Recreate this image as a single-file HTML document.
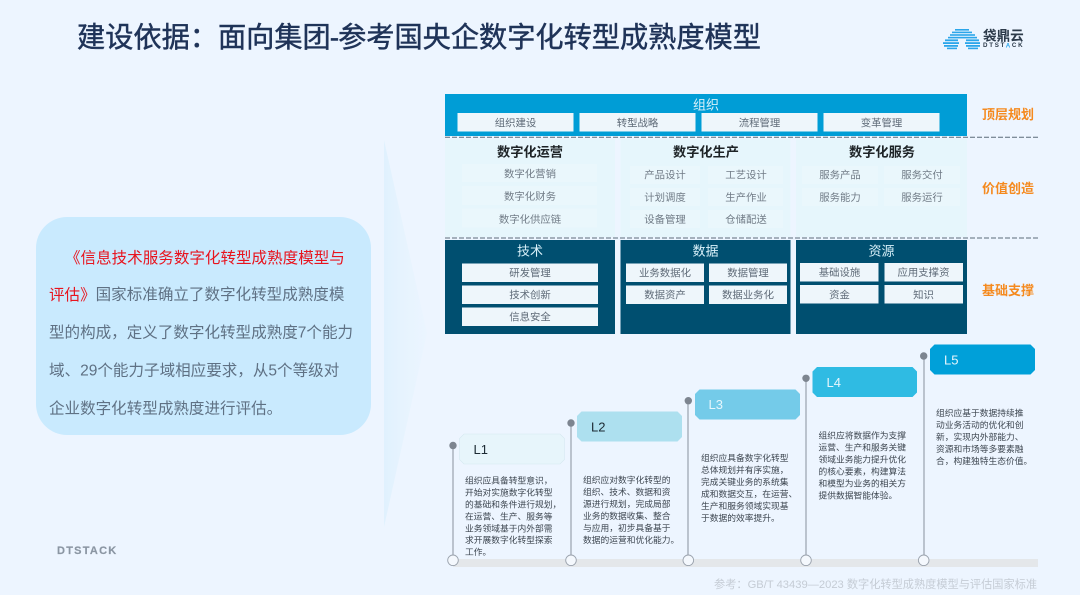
<!DOCTYPE html>
<html lang="zh"><head><meta charset="utf-8"><title>建设依据</title>
<style>
html,body{margin:0;padding:0;width:1080px;height:595px;overflow:hidden;background:#edf5ff}
svg{display:block}
text{font-family:"Liberation Sans","Noto Sans CJK SC",sans-serif;dominant-baseline:central}
.s{transform:translateY(0.9px)}
.m{text-anchor:middle}
.sub{font-size:10.4px;fill:#5f6b78;text-anchor:middle;transform:translateY(0.9px)}
.mid{font-size:10.4px;fill:#717c87;text-anchor:middle;transform:translateY(0.9px)}
.hd{font-size:13.2px;font-weight:700;fill:#1d2326;text-anchor:middle;transform:translateY(0.6px)}
.wh{font-size:13px;fill:#d9f1fa;text-anchor:middle;transform:translateY(0.6px)}
.or{font-size:13px;font-weight:700;fill:#f58a1f;transform:translateY(0.5px)}
.para{font-size:15.55px;fill:#5f7184;transform:translateY(0.8px)}
.red{fill:#e8141e}
.d{font-size:8.75px;fill:#3d4650}
.tag{font-size:13px}
</style></head><body>
<svg width="1080" height="595" viewBox="0 0 1080 595" xmlns="http://www.w3.org/2000/svg">
<defs><linearGradient id="ag" x1="0" x2="1" y1="0" y2="0"><stop offset="0" stop-color="#e0f1fe"/><stop offset="0.4" stop-color="#e6f3fe"/><stop offset="1" stop-color="#ebf5ff"/></linearGradient></defs>
<rect width="1080" height="595" fill="#edf5ff"/>
<text x="77" y="37" font-size="28.2" fill="#1f3358" stroke="#1f3358" stroke-width="0.45">建设依据：面向集团<tspan dx="-1">-</tspan><tspan dx="-1">参考国央企数字化转型成熟度模型</tspan></text>

<!-- logo -->
<g fill="#2ba6ea">
<rect x="955" y="29" width="14" height="1.6"/><rect x="952" y="31.6" width="20" height="1.6"/>
<rect x="950" y="34.2" width="25" height="1.6"/><rect x="948" y="36.8" width="29" height="1.6"/>
<rect x="945" y="39.4" width="13" height="1.8"/><rect x="966" y="39.4" width="13" height="1.8"/>
<rect x="943" y="42.2" width="16" height="1.8"/><rect x="965" y="42.2" width="15" height="1.8"/>
<rect x="944" y="45" width="14" height="1.8"/><rect x="966" y="45" width="14" height="1.8"/>
<rect x="947" y="47.6" width="10" height="1.6"/><rect x="968" y="47.6" width="10" height="1.6"/>
</g>
<text x="983" y="36" font-size="13.6" font-weight="700" fill="#2c3a4a">袋鼎云</text>
<text x="983" y="45.5" font-size="6.2" font-weight="700" fill="#2c3a4a" letter-spacing="1.75">DTST<tspan fill="#2ba6ea">A</tspan>CK</text>

<!-- big faint arrow -->
<polygon points="384,140 427,333 384,527" fill="url(#ag)"/>

<!-- left box -->
<rect x="36" y="217" width="335" height="218" rx="31" fill="#c9eafe"/>
<text class="para" x="65" y="257"><tspan class="red">《信息技术服务数字化转型成熟度模型与</tspan></text>
<text class="para" x="49" y="294"><tspan class="red">评估》</tspan>国家标准确立了数字化转型成熟度模</text>
<text class="para" x="49" y="332">型的构成，定义了数字化转型成熟度7个能力</text>
<text class="para" x="49" y="370">域、29个能力子域相应要求，从5个等级对</text>
<text class="para" x="49" y="408">企业数字化转型成熟度进行评估。</text>
<text x="57" y="551" font-size="11" font-weight="700" fill="#8b96a3" letter-spacing="1.25" stroke="#8b96a3" stroke-width="0.2">DTSTACK</text>

<!-- top layer -->
<rect x="445" y="94" width="522" height="42" fill="#009dd6"/>
<text class="m s" x="706" y="104" font-size="13" fill="#d9f1fa">组织</text>
<g fill="#eef6fb">
<rect x="457.5" y="113" width="116" height="18.5"/><rect x="579.5" y="113" width="116" height="18.5"/>
<rect x="701.5" y="113" width="116" height="18.5"/><rect x="823.5" y="113" width="116" height="18.5"/>
</g>
<text class="sub" x="515.5" y="123">组织建设</text><text class="sub" x="637.5" y="123">转型战略</text>
<text class="sub" x="759.5" y="123">流程管理</text><text class="sub" x="881.5" y="123">变革管理</text>

<!-- middle layer -->
<g fill="#e6f6fc">
<rect x="445" y="139" width="170" height="98"/><rect x="620.5" y="139" width="170" height="98"/><rect x="796" y="139" width="171" height="98"/>
</g>
<g fill="#eaf7fc">
<rect x="462" y="164" width="135" height="18"/><rect x="462" y="186" width="135" height="19"/><rect x="462" y="208.500" width="135" height="19"/>
<rect x="630" y="166" width="70" height="18"/><rect x="708" y="166" width="75" height="18"/>
<rect x="630" y="188" width="70" height="18"/><rect x="708" y="188" width="75" height="18"/>
<rect x="630" y="210" width="70" height="18"/><rect x="708" y="210" width="75" height="18"/>
<rect x="802" y="166" width="76" height="18"/><rect x="884" y="166" width="76" height="18"/>
<rect x="802" y="188" width="76" height="18"/><rect x="884" y="188" width="76" height="18"/>
</g>
<text class="hd" x="530" y="151.500">数字化运营</text>
<text class="hd" x="706" y="151.500">数字化生产</text>
<text class="hd" x="882" y="151.500">数字化服务</text>
<text class="mid" x="530" y="174">数字化营销</text><text class="mid" x="530" y="196.500">数字化财务</text><text class="mid" x="530" y="219.500">数字化供应链</text>
<text class="mid" x="665" y="175">产品设计</text><text class="mid" x="746" y="175">工艺设计</text>
<text class="mid" x="665" y="197.500">计划调度</text><text class="mid" x="746" y="197.500">生产作业</text>
<text class="mid" x="665" y="219.500">设备管理</text><text class="mid" x="746" y="219.500">仓储配送</text>
<text class="mid" x="840" y="175">服务产品</text><text class="mid" x="922" y="175">服务交付</text>
<text class="mid" x="840" y="197.500">服务能力</text><text class="mid" x="922" y="197.500">服务运行</text>

<!-- bottom layer -->
<g fill="#004f70">
<rect x="445" y="240" width="170" height="94"/><rect x="620.5" y="240" width="170" height="94"/><rect x="796" y="240" width="171" height="94"/>
</g>
<text class="wh" x="530" y="250.500">技术</text><text class="wh" x="705.500" y="250.500">数据</text><text class="wh" x="881.500" y="250.500">资源</text>
<g fill="#eef6fb">
<rect x="462" y="263.500" width="136" height="18.500"/><rect x="462" y="285.500" width="136" height="18.500"/><rect x="462" y="307.500" width="136" height="18.500"/>
<rect x="626" y="263.500" width="78" height="18.500"/><rect x="709" y="263.500" width="78" height="18.500"/>
<rect x="626" y="285.500" width="78" height="18.500"/><rect x="709" y="285.500" width="78" height="18.500"/>
<rect x="800" y="263" width="78.500" height="18.500"/><rect x="884.500" y="263" width="78.500" height="18.500"/>
<rect x="800" y="285" width="78.500" height="18.500"/><rect x="884.500" y="285" width="78.500" height="18.500"/>
</g>
<text class="sub" x="530" y="273">研发管理</text><text class="sub" x="530" y="295">技术创新</text><text class="sub" x="530" y="317">信息安全</text>
<text class="sub" x="665" y="273">业务数据化</text><text class="sub" x="748" y="273">数据管理</text>
<text class="sub" x="665" y="295">数据资产</text><text class="sub" x="748" y="295">数据业务化</text>
<text class="sub" x="839.500" y="272.500">基础设施</text><text class="sub" x="923.500" y="272.500">应用支撑资</text>
<text class="sub" x="839.500" y="295">资金</text><text class="sub" x="923.500" y="295">知识</text>

<line x1="445" y1="137.300" x2="1038" y2="137.300" stroke="#5b6b78" stroke-width="1" stroke-dasharray="5 2"/>
<line x1="445" y1="238" x2="1038" y2="238" stroke="#5b6b78" stroke-width="1" stroke-dasharray="5 2"/>
<text class="or" x="982" y="114">顶层规划</text>
<text class="or" x="982" y="188">价值创造</text>
<text class="or" x="982" y="290">基础支撑</text>

<!-- timeline -->
<rect x="453" y="559" width="585" height="8" fill="#e4e7ea"/>
<g stroke="#9aa2ad" stroke-width="1.2">
<line x1="453" y1="445" x2="453" y2="556"/><line x1="571" y1="423" x2="571" y2="556"/>
<line x1="688" y1="400.500" x2="688" y2="556"/><line x1="806" y1="378" x2="806" y2="556"/>
<line x1="924" y1="356" x2="924" y2="556"/>
</g>
<g fill="#7d8590">
<circle cx="453" cy="445.500" r="3.700"/><circle cx="571" cy="423" r="3.700"/><circle cx="688.300" cy="400.700" r="3.700"/><circle cx="806" cy="378.300" r="3.700"/><circle cx="923.700" cy="356" r="3.700"/>
</g>
<g fill="#f4f8fd" stroke="#9aa2ad" stroke-width="0.9">
<circle cx="453" cy="560.300" r="5.300"/><circle cx="571" cy="560.300" r="5.300"/><circle cx="688.300" cy="560.300" r="5.300"/><circle cx="806" cy="560.300" r="5.300"/><circle cx="923.700" cy="560.300" r="5.300"/>
</g>
<polygon points="464,434 560,434 564.500,438.500 564.500,459.500 560,464 464,464 459.500,459.500 459.500,438.500" fill="#e7f5fb" stroke="#d5e8f0" stroke-width="0.6"/>
<polygon points="581.500,411.500 677.500,411.500 682,416 682,437 677.500,441.500 581.500,441.500 577,437 577,416" fill="#ade0ef"/>
<polygon points="699.500,389.500 795.500,389.500 800,394 800,415 795.500,419.500 699.500,419.500 695,415 695,394" fill="#74cbe9"/>
<polygon points="817,367 912.500,367 917,371.500 917,392.500 912.500,397 817,397 812.500,392.500 812.500,371.500" fill="#2fbbe3"/>
<polygon points="934.500,344.500 1030.500,344.500 1035,349 1035,370 1030.500,374.500 934.500,374.500 930,370 930,349" fill="#00a0d9"/>
<text class="tag" x="473.500" y="449.500" fill="#1c2a33">L1</text>
<text class="tag" x="591" y="427" fill="#1c2a33">L2</text>
<text class="tag" x="708.500" y="404.500" fill="#e6f6fc">L3</text>
<text class="tag" x="826.500" y="382.500" fill="#e6f6fc">L4</text>
<text class="tag" x="944" y="360" fill="#e6f6fc">L5</text>

<g class="d">
<text class="d" x="465" y="480.500">组织应具备转型意识，</text>
<text class="d" x="465" y="492.500">开始对实施数字化转型</text>
<text class="d" x="465" y="504.500">的基础和条件进行规划，</text>
<text class="d" x="465" y="516.500">在运营、生产、服务等</text>
<text class="d" x="465" y="528.500">业务领域基于内外部需</text>
<text class="d" x="465" y="540">求开展数字化转型探索</text>
<text class="d" x="465" y="552">工作。</text>

<text class="d" x="583" y="480">组织应对数字化转型的</text>
<text class="d" x="583" y="492">组织、技术、数据和资</text>
<text class="d" x="583" y="504">源进行规划，完成局部</text>
<text class="d" x="583" y="516">业务的数据收集、整合</text>
<text class="d" x="583" y="528">与应用，初步具备基于</text>
<text class="d" x="583" y="540">数据的运营和优化能力。</text>

<text class="d" x="701" y="458">组织应具备数字化转型</text>
<text class="d" x="701" y="470">总体规划并有序实施，</text>
<text class="d" x="701" y="482">完成关键业务的系统集</text>
<text class="d" x="701" y="494">成和数据交互，在运营、</text>
<text class="d" x="701" y="506">生产和服务领域实现基</text>
<text class="d" x="701" y="518">于数据的效率提升。</text>

<text class="d" x="818.500" y="435.500">组织应将数据作为支撑</text>
<text class="d" x="818.500" y="447.500">运营、生产和服务关键</text>
<text class="d" x="818.500" y="459.500">领域业务能力提升优化</text>
<text class="d" x="818.500" y="471.500">的核心要素，构建算法</text>
<text class="d" x="818.500" y="483.500">和模型为业务的相关方</text>
<text class="d" x="818.500" y="495.500">提供数据智能体验。</text>

<text class="d" x="936" y="413">组织应基于数据持续推</text>
<text class="d" x="936" y="425">动业务活动的优化和创</text>
<text class="d" x="936" y="437">新，实现内外部能力、</text>
<text class="d" x="936" y="449">资源和市场等多要素融</text>
<text class="d" x="936" y="461">合，构建独特生态价值。</text>
</g>
<text x="714" y="584.800" font-size="11.2" fill="#c5ccd5">参考：GB/T 43439—2023 数字化转型成熟度模型与评估国家标准</text>
</svg>
</body></html>
